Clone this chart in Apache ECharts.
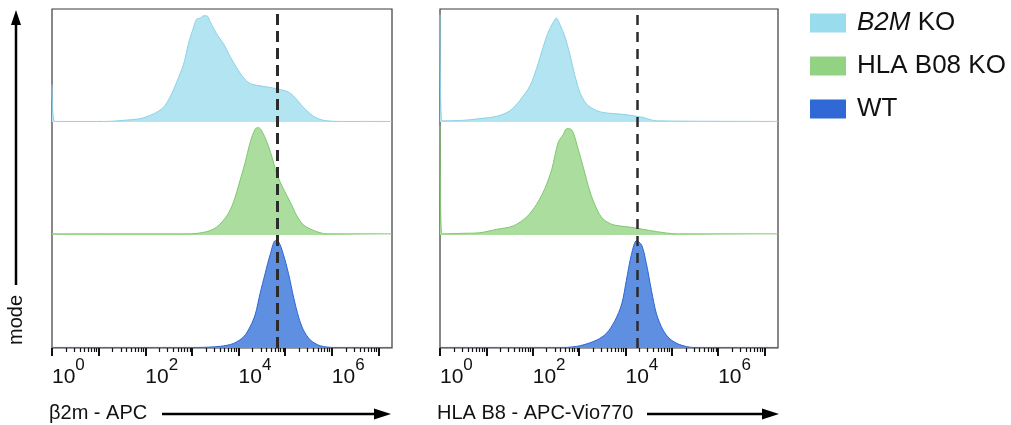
<!DOCTYPE html>
<html>
<head>
<meta charset="utf-8">
<script src="https://cdn.jsdelivr.net/npm/echarts@6/dist/echarts.min.js"></script>
<style>
  html, body { margin: 0; padding: 0; background: #fff; }
  #chart { width: 1011px; height: 425px; }
</style>
</head>
<body>
<div id="chart"></div>
<script>
// x = log10(intensity), y = normalised count (0..1, mode = 1)
// left panel: beta2m - APC
var leftB2M = [[0, 0.33], [0.06, 0.005], [1.17, 0.005], [1.53, 0.015], [1.89, 0.03], [2.17, 0.07], [2.39, 0.13], [2.53, 0.22],
  [2.68, 0.36], [2.82, 0.51], [2.93, 0.70], [3.03, 0.83], [3.10, 0.91], [3.18, 0.92], [3.25, 0.94], [3.32, 0.94],
  [3.39, 0.89], [3.53, 0.78], [3.68, 0.69], [3.82, 0.58], [3.96, 0.48], [4.11, 0.39], [4.25, 0.34], [4.46, 0.32],
  [4.75, 0.30], [5.04, 0.27], [5.18, 0.23], [5.39, 0.13], [5.61, 0.05], [5.82, 0.015], [6.18, 0.005], [7.29, 0.005]]
var leftHLA = [[0, 0.01], [2.96, 0.01], [3.32, 0.03], [3.53, 0.07], [3.75, 0.17], [3.89, 0.29], [4.03, 0.48], [4.14, 0.64],
  [4.25, 0.82], [4.36, 0.94], [4.43, 0.95], [4.50, 0.92], [4.61, 0.82], [4.71, 0.70], [4.82, 0.54], [4.96, 0.41],
  [5.11, 0.29], [5.25, 0.17], [5.39, 0.09], [5.61, 0.04], [5.89, 0.01], [7.29, 0.01]]
var leftWT = [[0, 0.005], [3.10, 0.005], [3.61, 0.015], [3.89, 0.04], [4.11, 0.10], [4.25, 0.19], [4.36, 0.30], [4.46, 0.48],
  [4.57, 0.66], [4.68, 0.83], [4.79, 0.95], [4.86, 0.94], [4.96, 0.83], [5.07, 0.66], [5.18, 0.45], [5.29, 0.27],
  [5.39, 0.16], [5.54, 0.07], [5.75, 0.02], [6.04, 0.005], [7.29, 0.005]]
var leftGate = 4.83

// right panel: HLA B8 - APC-Vio770
var rightB2M = [[0, 0.95], [0.04, 0.01], [0.50, 0.015], [0.86, 0.03], [1.22, 0.05], [1.51, 0.10], [1.72, 0.19], [1.94, 0.32],
  [2.08, 0.47], [2.23, 0.67], [2.33, 0.79], [2.44, 0.88], [2.51, 0.92], [2.59, 0.86], [2.69, 0.76], [2.80, 0.60],
  [2.91, 0.41], [3.02, 0.26], [3.16, 0.16], [3.38, 0.10], [3.59, 0.08], [3.88, 0.07], [4.09, 0.06], [4.38, 0.04],
  [4.67, 0.01], [7.29, 0.005]]
var rightHLA = [[0, 0.97], [0.04, 0.01], [0.50, 0.015], [0.86, 0.02], [1.22, 0.05], [1.58, 0.08], [1.87, 0.16], [2.08, 0.27],
  [2.26, 0.41], [2.41, 0.58], [2.55, 0.82], [2.66, 0.89], [2.73, 0.94], [2.80, 0.94], [2.87, 0.91], [2.98, 0.76],
  [3.09, 0.60], [3.23, 0.39], [3.38, 0.23], [3.52, 0.14], [3.74, 0.09], [4.09, 0.07], [4.38, 0.05], [4.67, 0.03],
  [5.10, 0.01], [7.29, 0.01]]
var rightWT = [[0, 0.005], [2.66, 0.005], [3.02, 0.02], [3.38, 0.07], [3.59, 0.13], [3.77, 0.24], [3.92, 0.39], [4.02, 0.60],
  [4.13, 0.83], [4.24, 0.95], [4.35, 0.91], [4.45, 0.75], [4.56, 0.51], [4.67, 0.30], [4.81, 0.16], [4.96, 0.08],
  [5.17, 0.03], [5.46, 0.005], [7.29, 0.005]]
var rightGate = 4.25

var groups = ['B2M KO', 'HLA B08 KO', 'WT']
var baselines = [2, 1, 0] // row offset of each group in a panel
var majorTicks = [0, 1, 2, 3, 4, 5, 6, 7]
var tickLabels = [0, 2, 4, 6]
var xMax = 7.29

var font = 'Liberation Sans, Arial, sans-serif'
var legendColors = ['#99dcee', '#92d383', '#3069d6']
var lineColors = ['#8ad3e8', '#7fc86d', '#2c66d4']
var fillColors = ['#b3e4f2', '#abdd9e', '#5f8fe0']

// minor log ticks 2..9 within each decade
var minorTicks = []
for (var d = 0; d < 8; d++) {
  for (var k = 2; k < 10; k++) {
    var v = d + Math.log10(k)
    if (v <= xMax) minorTicks.push(v)
  }
}

var chart = echarts.init(document.getElementById('chart'))

function histSeries(data, i, axisIdx) {
  var base = baselines[i]
  return {
    name: groups[i],
    type: 'line',
    xAxisIndex: axisIdx,
    yAxisIndex: axisIdx / 2,
    data: data.map(function (p) { return [p[0], p[1] + base] }),
    smooth: 0.3,
    showSymbol: false,
    silent: true,
    itemStyle: { color: legendColors[i] },
    lineStyle: { color: lineColors[i], width: 1 },
    areaStyle: { color: fillColors[i], opacity: 1, origin: base },
    z: 3 - i
  }
}

function gateSeries(value, axisIdx, dash, width) {
  return {
    type: 'line',
    xAxisIndex: axisIdx,
    yAxisIndex: axisIdx / 2,
    data: [],
    silent: true,
    z: 10,
    markLine: {
      symbol: 'none',
      silent: true,
      label: { show: false },
      lineStyle: { color: '#2b2b2b', type: dash, width: width },
      data: [{ xAxis: value }]
    }
  }
}

function majorAxis(gridIdx) {
  return {
    type: 'value', gridIndex: gridIdx, position: 'bottom', min: 0, max: xMax,
    axisLine: { show: false },
    splitLine: { show: false },
    axisTick: { show: true, inside: false, length: 8, customValues: majorTicks, lineStyle: { color: '#111', width: 2 } },
    axisLabel: {
      show: true, customValues: tickLabels, align: 'left', margin: 9, color: '#111',
      formatter: function (v) { return '{b|10}{s|' + v + '}' },
      rich: {
        b: { fontSize: 21, fontFamily: font, color: '#111', verticalAlign: 'bottom', padding: [8, 0, 0, 0] },
        s: { fontSize: 17, fontFamily: font, color: '#111', verticalAlign: 'bottom', padding: [0, 0, 14, 0] }
      }
    }
  }
}

function minorAxis(gridIdx) {
  return {
    type: 'value', gridIndex: gridIdx, position: 'bottom', min: 0, max: xMax,
    axisLine: { show: false },
    splitLine: { show: false },
    axisTick: { show: true, inside: false, length: 4, customValues: minorTicks, lineStyle: { color: '#111', width: 1.2 } },
    axisLabel: { show: false }
  }
}

function yAxis(gridIdx) {
  return { type: 'value', gridIndex: gridIdx, min: 0, max: 3, show: false }
}

function arrow(x1, y1, x2, y2, head, half) {
  // straight arrow drawn with a line and a triangle head
  var dx = x2 - x1, dy = y2 - y1
  var len = Math.sqrt(dx * dx + dy * dy)
  var ux = dx / len, uy = dy / len
  var bx = x2 - ux * head, by = y2 - uy * head
  return [
    { type: 'line', shape: { x1: x1, y1: y1, x2: bx, y2: by }, style: { stroke: '#000', lineWidth: 2.5 } },
    { type: 'polygon', shape: { points: [[x2, y2], [bx - uy * half, by + ux * half], [bx + uy * half, by - ux * half]] }, style: { fill: '#000' } }
  ]
}

var graphics = []
graphics = graphics.concat(arrow(16, 285, 16, 10, 15, 5))
graphics = graphics.concat(arrow(162, 414, 391, 414, 17, 5.5))
graphics = graphics.concat(arrow(647, 414, 779, 414, 17, 5.5))
graphics.push({ type: 'text', x: 16, y: 320, rotation: Math.PI / 2, style: { text: 'mode', font: '20px ' + font, fill: '#111', align: 'center', verticalAlign: 'middle' } })
graphics.push({ type: 'text', x: 49, y: 413, style: { text: 'β2m - APC', font: '20px ' + font, fill: '#111', verticalAlign: 'middle' } })
graphics.push({ type: 'text', x: 437, y: 413, style: { text: 'HLA B8 - APC-Vio770', font: '20px ' + font, fill: '#111', verticalAlign: 'middle' } })

var option = {
  backgroundColor: '#fff',
  animation: false,
  grid: [
    { left: 52, width: 340, top: 9, height: 339, show: true, borderColor: '#3a3a3a', borderWidth: 1.2, backgroundColor: 'transparent' },
    { left: 440, width: 338, top: 9, height: 339, show: true, borderColor: '#3a3a3a', borderWidth: 1.2, backgroundColor: 'transparent' }
  ],
  xAxis: [majorAxis(0), minorAxis(0), majorAxis(1), minorAxis(1)],
  yAxis: [yAxis(0), yAxis(1)],
  legend: {
    orient: 'vertical',
    left: 810,
    top: 10,
    padding: 0,
    itemWidth: 36,
    itemHeight: 19,
    itemGap: 17,
    icon: 'rect',
    data: groups,
    selectedMode: false,
    textStyle: { fontSize: 26, lineHeight: 19, fontFamily: font, color: '#111', padding: [0, 0, 0, 6] },
    formatter: function (name) {
      return name === 'B2M KO' ? '{i|B2M} KO' : name
    },
    itemStyle: { borderWidth: 0 }
  },
  series: [
    histSeries(leftB2M, 0, 0),
    histSeries(leftHLA, 1, 0),
    histSeries(leftWT, 2, 0),
    histSeries(rightB2M, 0, 2),
    histSeries(rightHLA, 1, 2),
    histSeries(rightWT, 2, 2),
    gateSeries(leftGate, 0, [11, 6], 3),
    gateSeries(rightGate, 2, [10, 7], 2.5)
  ],
  graphic: graphics
}
option.legend.textStyle.rich = { i: { fontStyle: 'italic', fontSize: 26, lineHeight: 19, fontFamily: font, color: '#111' } }

chart.setOption(option)
window.addEventListener('resize', function () { chart.resize() })
</script>
</body>
</html>
